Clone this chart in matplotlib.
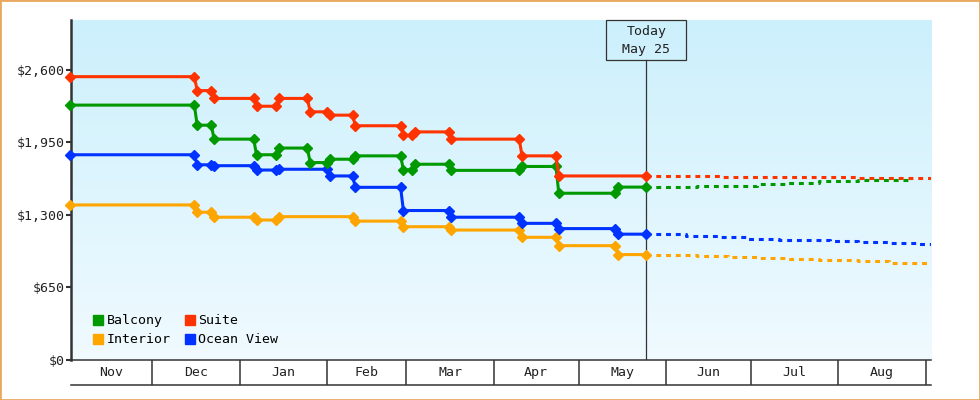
import matplotlib
matplotlib.use("Agg")
import matplotlib.pyplot as plt
import matplotlib.patches as mpatches
import numpy as np
import pandas as pd

# price history: date of each price change and the price after it
balcony_dates = ["2024-11-02", "2024-12-17", "2024-12-23", "2025-01-07", "2025-01-15", "2025-01-26",
                 "2025-02-02", "2025-02-11", "2025-02-28", "2025-03-04", "2025-03-17", "2025-04-11",
                 "2025-04-24", "2025-05-15"]
balcony_prices = [2285, 2105, 1980, 1840, 1900, 1770, 1800, 1830, 1705, 1755, 1700, 1735, 1495, 1550]

suite_dates = ["2024-11-02", "2024-12-17", "2024-12-23", "2025-01-07", "2025-01-15", "2025-01-26",
               "2025-02-02", "2025-02-11", "2025-02-28", "2025-03-04", "2025-03-17", "2025-04-11",
               "2025-04-24"]
suite_prices = [2540, 2415, 2345, 2275, 2345, 2225, 2195, 2100, 2015, 2045, 1980, 1830, 1650]

ocean_dates = ["2024-11-02", "2024-12-17", "2024-12-23", "2025-01-07", "2025-01-15", "2025-02-02",
               "2025-02-11", "2025-02-28", "2025-03-17", "2025-04-11", "2025-04-24", "2025-05-15"]
ocean_prices = [1840, 1750, 1742, 1703, 1710, 1650, 1548, 1340, 1280, 1225, 1178, 1128]

interior_dates = ["2024-11-02", "2024-12-17", "2024-12-23", "2025-01-07", "2025-01-15", "2025-02-11",
                  "2025-02-28", "2025-03-17", "2025-04-11", "2025-04-24", "2025-05-15"]
interior_prices = [1390, 1325, 1280, 1255, 1285, 1245, 1195, 1165, 1100, 1025, 945]

# forecast after today
balcony_fc_dates = ["2025-05-25", "2025-06-12", "2025-07-03", "2025-07-14", "2025-07-25", "2025-08-08", "2025-08-27"]
balcony_fc_prices = [1550, 1563, 1575, 1590, 1602, 1617, 1617]
suite_fc_dates = ["2025-05-25", "2025-06-20", "2025-08-08", "2025-09-03"]
suite_fc_prices = [1650, 1638, 1629, 1629]
ocean_fc_dates = ["2025-05-25", "2025-06-08", "2025-06-20", "2025-06-30", "2025-07-11", "2025-07-29",
                  "2025-08-08", "2025-08-19", "2025-08-29", "2025-09-03"]
ocean_fc_prices = [1128, 1109, 1100, 1088, 1079, 1070, 1058, 1046, 1037, 1037]
interior_fc_dates = ["2025-05-25", "2025-06-01", "2025-06-12", "2025-06-23", "2025-07-03", "2025-07-14",
                     "2025-07-25", "2025-08-08", "2025-08-19", "2025-08-29", "2025-09-03"]
interior_fc_prices = [945, 938, 929, 921, 912, 905, 897, 885, 872, 867, 867]

today = pd.Timestamp("2025-05-25")
months = ["Nov", "Dec", "Jan", "Feb", "Mar", "Apr", "May", "Jun", "Jul", "Aug"]
y_ticks = [0, 650, 1300, 1950, 2600]

colors = {"Balcony": "#009900", "Suite": "#ff3300", "Interior": "#ffa500", "Ocean View": "#0033ff"}
font = "DejaVu Sans Mono"
dark = "#333333"
px_per_day = 2.825


def step_points(dates, prices, end):
    # each change is drawn from the old price the day before to the new price
    d = pd.to_datetime(dates)
    xs, ys = [d[0]], [prices[0]]
    for i in range(1, len(d)):
        xs.append(d[i] - pd.Timedelta(days=1))
        ys.append(prices[i - 1])
        xs.append(d[i])
        ys.append(prices[i])
    xs.append(end)
    ys.append(prices[-1])
    return xs, ys


fig = plt.figure(figsize=(9.8, 4.0), dpi=100)
ax = fig.add_axes([71 / 980, 40 / 400, 860 / 980, 340 / 400])

start = pd.Timestamp("2024-11-02 08:00")
ax.set_xlim(start, start + pd.Timedelta(days=860 / px_per_day))
ax.set_ylim(0, 3048)

# background gradient
grad = np.linspace(0, 1, 256).reshape(-1, 1)
top = np.array([204, 240, 252]) / 255
bottom = np.array([240, 250, 255]) / 255
img = top + (bottom - top) * grad[:, :, None]
ax.imshow(img, extent=[0, 1, 0, 1], transform=ax.transAxes, aspect="auto", zorder=0)

series = [
    ("Interior", interior_dates, interior_prices, interior_fc_dates, interior_fc_prices),
    ("Ocean View", ocean_dates, ocean_prices, ocean_fc_dates, ocean_fc_prices),
    ("Balcony", balcony_dates, balcony_prices, balcony_fc_dates, balcony_fc_prices),
    ("Suite", suite_dates, suite_prices, suite_fc_dates, suite_fc_prices),
]
for name, dts, prs, fdts, fprs in series:
    c = colors[name]
    ax.step(pd.to_datetime(fdts), fprs, where="post", color=c, lw=2.2,
            linestyle=(0, (1.6, 1.6)), zorder=3)
    xs, ys = step_points(dts, prs, today)
    ax.plot(xs, ys, color=c, lw=2.2, marker="D", ms=4.8, zorder=4, clip_on=False)

# today marker
ax.axvline(today, ymin=0, ymax=300 / 340, color=dark, lw=0.9, zorder=2)
box_w = pd.Timedelta(days=80 / px_per_day)
ax.add_patch(mpatches.Rectangle((today - box_w / 2, 300 / 340), box_w, 40 / 340,
                                transform=ax.get_xaxis_transform(), fill=False,
                                edgecolor=dark, lw=0.9, zorder=5, clip_on=False))
ax.text(today, 1 - 12 / 340, "Today", transform=ax.get_xaxis_transform(), ha="center",
        va="center", fontsize=9.5, family=font, color="#222222")
ax.text(today, 1 - 30 / 340, "May 25", transform=ax.get_xaxis_transform(), ha="center",
        va="center", fontsize=9.5, family=font, color="#222222")

# y axis
ax.set_yticks(y_ticks)
ax.set_yticklabels(["${:,}".format(v) for v in y_ticks], family=font, fontsize=9.5, color="#222222")
ax.tick_params(axis="y", length=3.6, width=1.5, color=dark, pad=1)
ax.set_xticks([])
for s in ["top", "right"]:
    ax.spines[s].set_visible(False)
ax.spines["left"].set_color(dark)
ax.spines["left"].set_linewidth(1.8)
ax.spines["bottom"].set_color(dark)
ax.spines["bottom"].set_linewidth(1.1)

# month cells under the plot
row = -25 / 340
month_starts = pd.date_range("2024-11-01", "2025-09-01", freq="MS")
tr = ax.get_xaxis_transform()
ax.vlines(month_starts[1:], row, 0, transform=tr, color=dark, lw=1.1, clip_on=False)
ax.plot([0, 1], [row, row], transform=ax.transAxes, color=dark, lw=1.1, clip_on=False)
for i, m in enumerate(months):
    left = max(month_starts[i], start)
    mid = left + (month_starts[i + 1] - left) / 2
    ax.text(mid, row / 2, m, transform=tr, ha="center", va="center",
            fontsize=9.5, family=font, color="#222222")

# legend
order = ["Balcony", "Interior", "Suite", "Ocean View"]
handles = [mpatches.Patch(color=colors[n], label=n) for n in order]
ax.legend(handles=handles, ncol=2, loc="lower left", bbox_to_anchor=(0.026, 0.04),
          frameon=False, prop={"family": font, "size": 9.5}, handlelength=0.76,
          handleheight=0.76, handletextpad=0.25, columnspacing=1.05, labelspacing=0.45,
          borderpad=0, borderaxespad=0)

# outer border
fig.add_artist(mpatches.Rectangle((0, 0), 1, 1, transform=fig.transFigure, fill=False,
                                  edgecolor="#e8a860", lw=2))

fig.savefig("out.png", dpi=100)
